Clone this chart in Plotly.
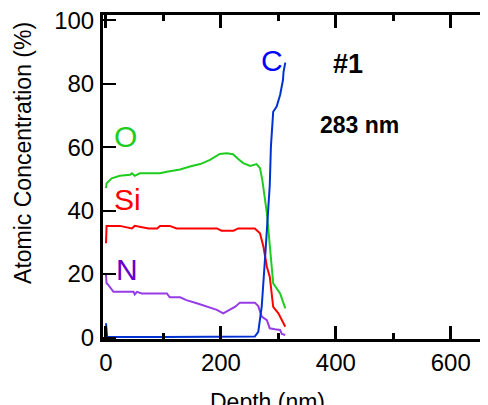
import plotly.graph_objects as go

# ---- data (depth in nm, atomic concentration in %) ----
o_depth = [0, 1, 10, 24, 42, 45, 50, 59, 77, 94, 106, 117, 129, 146, 164, 181, 198, 210, 221,
           230, 239, 251, 256, 262, 268, 272, 280, 285, 291, 303, 312]
o_conc = [47.1, 48.6, 50.2, 51.0, 51.3, 51.8, 51.0, 51.8, 51.8, 51.8, 52.3, 52.6, 53.0, 53.9, 54.7,
          56.0, 57.9, 58.1, 57.8, 56.3, 55.0, 54.1, 54.4, 54.7, 53.4, 49.7, 39.2, 28.6, 17.1, 13.9, 9.2]

si_depth = [0, 1, 24, 45, 50, 74, 89, 94, 111, 123, 193, 201, 222, 230, 259, 268, 274, 280, 285,
            291, 300, 312]
si_conc = [29.7, 35.2, 35.2, 34.4, 35.2, 34.4, 34.4, 35.2, 35.2, 34.4, 34.4, 33.7, 33.7, 34.4,
           34.4, 32.9, 28.6, 22.3, 19.2, 9.7, 7.6, 3.4]

n_depth = [0, 1, 4, 13, 48, 50, 54, 62, 106, 111, 129, 140, 158, 175, 193, 204, 216, 225, 233,
           259, 265, 271, 280, 285, 294, 303, 306, 312]
n_conc = [19.7, 17.1, 16.6, 14.4, 14.4, 13.6, 14.4, 13.9, 13.9, 12.7, 12.7, 11.8, 10.8, 9.7, 8.7,
          7.6, 8.7, 9.7, 11.0, 11.0, 9.9, 6.6, 5.5, 2.9, 2.6, 2.4, 1.1, 0.8]

c_depth = [0, 2, 100, 200, 259, 265, 271, 277, 282, 285, 287, 291, 297, 303, 308, 309, 312]
c_conc = [4.5, 0.2, 0.2, 0.3, 0.3, 1.8, 9.7, 25.5, 39.2, 48.0, 60.2, 71.2, 72.8, 76.5, 81.2, 83.8, 86.7]

x_ticks = [0, 200, 400, 600]
x_minor_ticks = [100, 300, 500]
y_ticks = [0, 20, 40, 60, 80, 100]

FONT = "Liberation Sans, Arial, sans-serif"

fig = go.Figure()
series = [
    (o_depth, o_conc, "rgb(30,205,30)", "O"),
    (si_depth, si_conc, "rgb(255,0,0)", "Si"),
    (n_depth, n_conc, "rgb(150,60,230)", "N"),
    (c_depth, c_conc, "rgb(0,50,210)", "C"),
]
for xs, ys, col, name in series:
    fig.add_trace(go.Scatter(x=xs, y=ys, mode="lines", name=name,
                             line=dict(color=col, width=2), showlegend=False))

# invisible traces so that the tick-only overlay axes are drawn
for ax in ["x2", "x3", "x4"]:
    fig.add_trace(go.Scatter(x=[c_depth[0]], y=[c_conc[0]], xaxis=ax, mode="markers",
                             marker=dict(opacity=0), hoverinfo="skip", showlegend=False))

ann = [
    dict(text="O", x=0.0597, y=0.6265, color="rgb(30,205,30)", size=30, bold=False),
    dict(text="Si", x=0.0649, y=0.432, color="rgb(255,0,0)", size=30, bold=False),
    dict(text="N", x=0.0623, y=0.213, color="rgb(100,0,200)", size=30, bold=False),
    dict(text="C", x=0.439, y=0.861, color="rgb(0,0,255)", size=30, bold=False),
    dict(text="#1", x=0.636, y=0.849, color="black", size=27, bold=True),
    dict(text="283 nm", x=0.6675, y=0.6605, color="black", size=23, bold=True),
]
for a in ann:
    fig.add_annotation(text=("<b>%s</b>" % a["text"]) if a["bold"] else a["text"],
                       x=a["x"], y=a["y"], xref="paper", yref="paper",
                       xanchor="center", yanchor="middle", showarrow=False,
                       font=dict(family=FONT, size=a["size"], color=a["color"]))

# axis titles as annotations for precise placement
fig.add_annotation(text="Depth (nm)", x=0.428, y=-0.194, xref="paper", yref="paper",
                   xanchor="center", yanchor="middle", showarrow=False,
                   font=dict(family=FONT, size=23, color="black"))
fig.add_annotation(text="Atomic Concentration (%)", x=-0.208, y=0.574, xref="paper", yref="paper",
                   xanchor="center", yanchor="middle", showarrow=False, textangle=-90,
                   font=dict(family=FONT, size=23, color="black"))

xrange = [-5.2, 664.8]

def tick_axis(side, vals, length, line):
    return dict(range=xrange, overlaying="x", side=side, anchor="y", tickvals=vals,
                ticks="inside", ticklen=length, tickwidth=3, tickcolor="black",
                showline=line, linecolor="black", linewidth=3,
                showgrid=False, zeroline=False, showticklabels=False)

# page body has an 8px margin, so the figure is shrunk/shifted to land where the reference is
fig.update_layout(
    width=480, height=397,
    margin=dict(l=95, r=0, t=7, b=66),
    plot_bgcolor="white",
    font=dict(family=FONT, size=24, color="black"),
    showlegend=False,
    xaxis=dict(range=xrange, tickvals=x_ticks, ticks="inside", ticklen=13, tickwidth=3,
               tickcolor="black", showline=True, linecolor="black", linewidth=3,
               showgrid=False, zeroline=False, tickfont=dict(size=24)),
    xaxis2=tick_axis("top", x_ticks, 13, True),
    xaxis3=tick_axis("bottom", x_minor_ticks, 6, False),
    xaxis4=tick_axis("top", x_minor_ticks, 6, False),
    yaxis=dict(range=[-0.47, 101.7], tickvals=y_ticks, ticks="inside", ticklen=13, tickwidth=2,
               tickcolor="black", showline=True, linecolor="black", linewidth=3,
               showgrid=False, zeroline=False, tickfont=dict(size=24), ticklabelstandoff=1,
               ticklabeloverflow="allow"),
)

fig.write_html("out.html")
